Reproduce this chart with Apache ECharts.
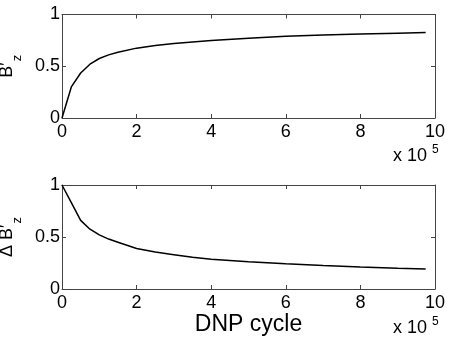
<!DOCTYPE html>
<html>
<head>
<meta charset="utf-8">
<style>
  html, body { margin: 0; padding: 0; background: #fff; }
  #chart { width: 450px; height: 340px; }
</style>
<script src="https://cdn.jsdelivr.net/npm/echarts@6/dist/echarts.min.js"></script>
</head>
<body>
<div id="chart"></div>
<script>
// DNP cycles (in units of 1e5)
const cycles = [0, 0.25, 0.5, 0.75, 1, 1.25, 1.5, 2, 2.5, 3, 3.5, 4, 5, 6, 7, 8, 9, 9.75]
// B'_z
const bz = [0, 0.30, 0.435, 0.52, 0.575, 0.61, 0.635, 0.675, 0.70, 0.72, 0.735, 0.748, 0.77, 0.79, 0.803, 0.812, 0.82, 0.825]
// Delta B'_z
const dbz = [1, 0.83, 0.66, 0.575, 0.52, 0.48, 0.45, 0.39, 0.355, 0.33, 0.305, 0.287, 0.262, 0.242, 0.225, 0.212, 0.2, 0.193]

const xTicks = [0, 2, 4, 6, 8, 10]
const yTicks = [0, 0.5, 1]

const font = 'Liberation Sans, Arial, Helvetica, sans-serif'
const boxColor = '#444'

const pairs = (ys) => cycles.map((c, i) => [c, ys[i]])

function xAx(grid, top) {
    return {
        type: 'value', gridIndex: grid, position: top ? 'top' : 'bottom',
        min: xTicks[0], max: xTicks[xTicks.length - 1], interval: xTicks[1] - xTicks[0],
        axisLine: { show: true, onZero: false, lineStyle: { color: boxColor, width: 1 } },
        axisTick: { show: true, inside: true, length: 4, lineStyle: { color: boxColor } },
        axisLabel: { show: !top, color: '#000', fontSize: 18, fontFamily: font, margin: 5 },
        splitLine: { show: false }
    }
}

function yAx(grid, right, name) {
    return {
        type: 'value', gridIndex: grid, position: right ? 'right' : 'left',
        min: yTicks[0], max: yTicks[yTicks.length - 1], interval: yTicks[1] - yTicks[0],
        axisLine: { show: true, onZero: false, lineStyle: { color: boxColor, width: 1 } },
        axisTick: { show: true, inside: true, length: 4, lineStyle: { color: boxColor } },
        axisLabel: { show: !right, color: '#000', fontSize: 18, fontFamily: font, margin: 2 },
        splitLine: { show: false },
        name: right ? '' : name,
        nameLocation: 'middle',
        nameGap: 31,
        nameRotate: 90,
        nameTextStyle: {
            color: '#000', fontFamily: font,
            rich: {
                b: { fontSize: 18, fontFamily: font, color: '#000' },
                sub: { fontSize: 13, fontFamily: font, color: '#000', verticalAlign: 'bottom', padding: [0, 0, -8, 1] }
            }
        }
    }
}

function exponent(x, y) {
    return [
        { text: 'x 10', left: x, top: y, padding: 0, itemGap: 0,
          textStyle: { fontSize: 18, fontWeight: 'normal', fontFamily: font, color: '#000' } },
        { text: '5', left: x + 39, top: y - 3, padding: 0, itemGap: 0,
          textStyle: { fontSize: 12, fontWeight: 'normal', fontFamily: font, color: '#000' } }
    ]
}

const chart = echarts.init(document.getElementById('chart'))
chart.setOption({
    animation: false,
    title: exponent(393, 147).concat(exponent(393, 319)),
    grid: [
        { left: 62, right: 15, top: 14.5, height: 103.5, outerBoundsMode: 'none', containLabel: false },
        { left: 62, right: 15, top: 185, height: 104, outerBoundsMode: 'none', containLabel: false }
    ],
    xAxis: [
        xAx(0, false), xAx(0, true),
        Object.assign(xAx(1, false), {
            name: 'DNP cycle', nameLocation: 'middle', nameGap: 24,
            nameTextStyle: { color: '#000', fontSize: 23, fontFamily: font }
        }),
        xAx(1, true)
    ],
    yAxis: [
        yAx(0, false, '{b|B\u2032}{sub|z}'), yAx(0, true),
        yAx(1, false, '{b|\u0394 B\u2032}{sub|z}'), yAx(1, true)
    ],
    series: [
        { type: 'line', xAxisIndex: 0, yAxisIndex: 0, data: pairs(bz), symbol: 'none',
          lineStyle: { color: '#000', width: 1.5 } },
        { type: 'line', xAxisIndex: 2, yAxisIndex: 2, data: pairs(dbz), symbol: 'none',
          lineStyle: { color: '#000', width: 1.5 } }
    ]
})
</script>
</body>
</html>
